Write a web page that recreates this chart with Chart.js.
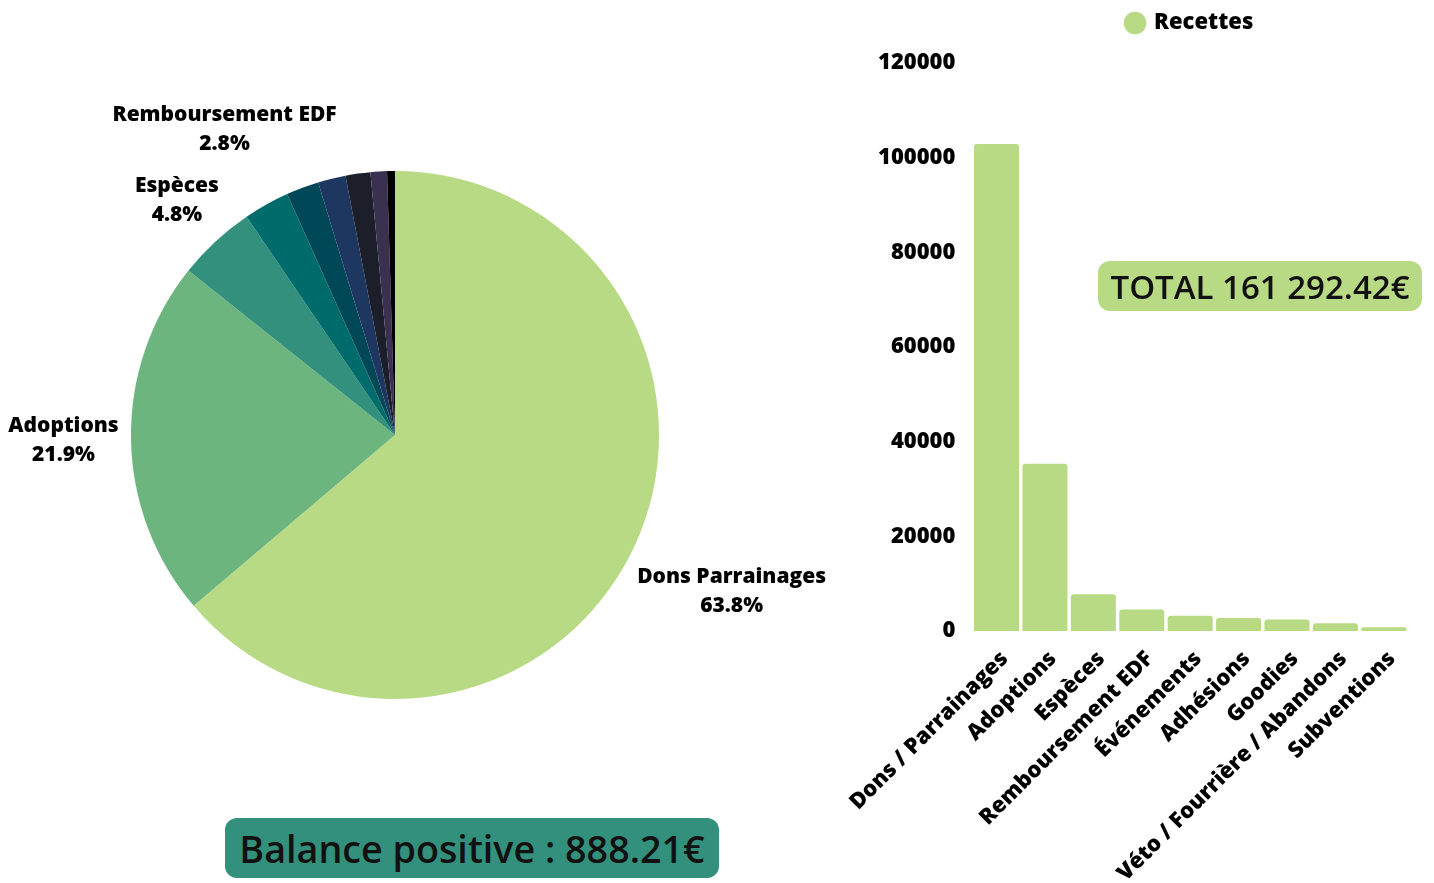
<!DOCTYPE html>
<html>
<head>
<meta charset="utf-8">
<script src="https://cdn.jsdelivr.net/npm/chart.js@4.4.1/dist/chart.umd.min.js"></script>
<style>
  html, body { margin: 0; padding: 0; background: #fff; overflow: hidden; }
  body { width: 1434px; height: 883px; position: relative; font-family: 'Open Sans', sans-serif; }
  #pie-wrap { position: absolute; left: 0; top: 0; width: 840px; height: 870px; }
  #bar-wrap { position: absolute; left: 820px; top: 0; width: 614px; height: 931px; }
  .box { position: absolute; color: #111; font-weight: 600; display: flex; align-items: center; justify-content: center; border-radius: 12px; }
  #total { left: 1098px; top: 261px; width: 324px; height: 50px; background: #b9da84; font-size: 33px; }
  #balance { left: 225px; top: 818px; width: 494px; height: 60px; background: #33907c; font-size: 37.7px; }
</style>
</head>
<body>
<div id="pie-wrap"><canvas id="pie"></canvas></div>
<div id="bar-wrap"><canvas id="bar"></canvas></div>
<div class="box" id="total">TOTAL 161 292.42€</div>
<div class="box" id="balance">Balance positive : 888.21€</div>

<script>
const barLabels = ['Dons / Parrainages', 'Adoptions', 'Espèces', 'Remboursement EDF', 'Événements', 'Adhésions', 'Goodies', 'Véto / Fourrière / Abandons', 'Subventions']
const pieLabels = ['Dons Parrainages', 'Adoptions', 'Espèces', 'Remboursement EDF', 'Événements', 'Adhésions', 'Goodies', 'Véto / Fourrière / Abandons', 'Subventions']
const recettes  = [102905, 35323, 7742, 4516, 3230, 2730, 2450, 1620, 776]
const pieColors = ['#b9da84', '#6db57e', '#33907c', '#006b6b', '#004858', '#1e3760', '#1c1f29', '#3a3151', '#000000']
const yTicks    = [0, 20000, 40000, 60000, 80000, 100000, 120000]

const BAR_GREEN = '#b9da84'
const FONT = "'Open Sans', sans-serif"
const total = recettes.reduce((a, b) => a + b, 0)

// étiquettes extérieures du camembert (nom + %)
const pieLabelPlugin = {
  id: 'pieLabels',
  afterDraw(chart) {
    const { ctx } = chart
    const arcs = chart.getDatasetMeta(0).data
    ctx.save()
    ctx.font = `800 21px ${FONT}`
    ctx.fillStyle = '#000'
    ctx.textAlign = 'center'
    ctx.textBaseline = 'middle'
    arcs.forEach((arc, i) => {
      const pct = recettes[i] / total * 100
      if (pct < 2.5) return
      const { x, y, startAngle, endAngle, outerRadius } = arc.getProps(['x', 'y', 'startAngle', 'endAngle', 'outerRadius'], true)
      const mid = (startAngle + endAngle) / 2
      const dx = Math.cos(mid), dy = Math.sin(mid)
      const lines = [pieLabels[i], pct.toFixed(1) + '%']
      const w = Math.max(...lines.map(l => ctx.measureText(l).width))
      const h = 44
      const dist = outerRadius + 12 + Math.abs(dx) * w / 2 + Math.abs(dy) * h / 2
      const cx = x + dx * dist
      const cy = y + dy * dist
      ctx.fillText(lines[0], cx, cy - 14)
      ctx.fillText(lines[1], cx, cy + 15)
    })
    ctx.restore()
  }
}

// un peu d'espace sous la légende
const legendGap = {
  id: 'legendGap',
  beforeInit(chart) {
    const fit = chart.legend.fit
    chart.legend.fit = function () {
      fit.bind(chart.legend)()
      this.height += 19
    }
  }
}

new Chart(document.getElementById('pie'), {
  type: 'pie',
  data: {
    labels: pieLabels,
    datasets: [{
      data: recettes,
      backgroundColor: pieColors,
      borderWidth: 0,
    }],
  },
  options: {
    responsive: true,
    maintainAspectRatio: false,
    animation: false,
    layout: { padding: { left: 131, right: 181, top: 171, bottom: 171 } },
    plugins: {
      legend: { display: false },
      tooltip: { enabled: false },
    },
  },
  plugins: [pieLabelPlugin],
})

new Chart(document.getElementById('bar'), {
  type: 'bar',
  data: {
    labels: barLabels,
    datasets: [{
      label: 'Recettes',
      data: recettes,
      backgroundColor: BAR_GREEN,
      borderRadius: 3,
      borderSkipped: 'bottom',
      barPercentage: 0.93,
      categoryPercentage: 1,
    }],
  },
  options: {
    responsive: true,
    maintainAspectRatio: false,
    animation: false,
    layout: { padding: { top: 0, left: 41, right: 26 } },
    scales: {
      x: {
        grid: { display: false, drawTicks: false },
        border: { display: false },
        ticks: { color: '#000', font: { family: FONT, size: 22, weight: 800 }, minRotation: 45, maxRotation: 45, autoSkip: false, padding: 15, labelOffset: 8 },
        afterFit(s) { s.height = 300 },
      },
      y: {
        min: 0, max: 120000,
        afterBuildTicks(s) { s.ticks = yTicks.map(v => ({ value: v })) },
        grid: { display: false, drawTicks: false },
        border: { display: false },
        ticks: { color: '#000', font: { family: FONT, size: 22, weight: 800 }, padding: 17, callback: v => String(v) },
      },
    },
    plugins: {
      legend: {
        fullSize: false,
        labels: {
          color: '#000',
          usePointStyle: true,
          pointStyle: 'circle',
          boxWidth: 16, boxHeight: 16,
          font: { family: FONT, size: 22, weight: 800 },
          padding: 12,
        },
      },
      tooltip: { enabled: false },
    },
  },
  plugins: [legendGap],
})
</script>
</body>
</html>
